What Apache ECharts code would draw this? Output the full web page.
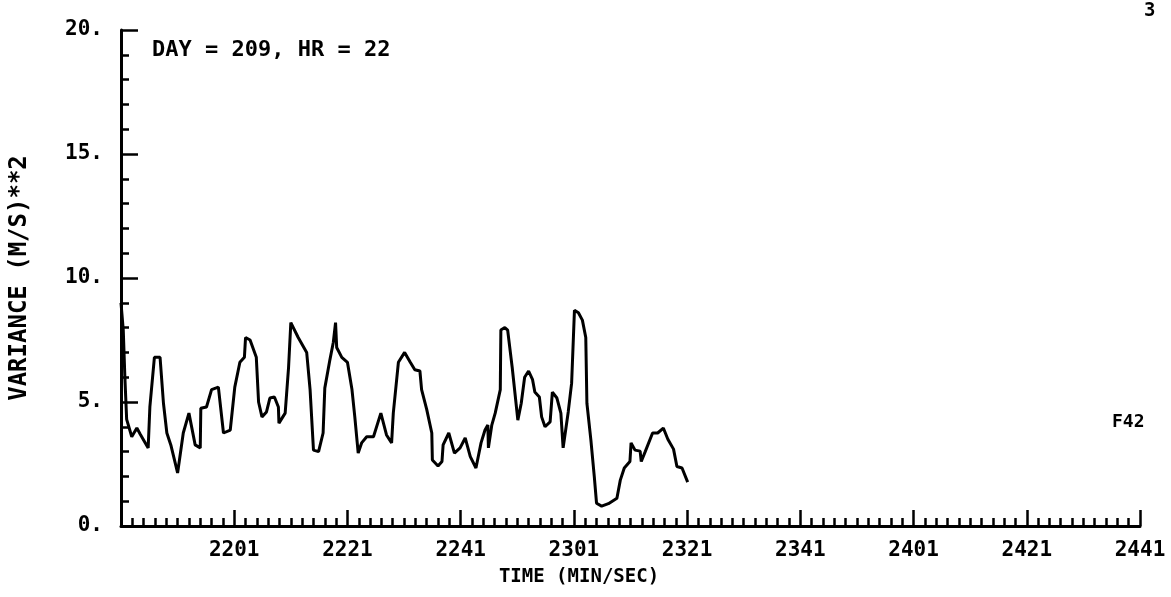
<!DOCTYPE html>
<html>
<head>
<meta charset="utf-8">
<script src="https://cdn.jsdelivr.net/npm/echarts@6/dist/echarts.min.js"></script>
<style>
html,body{margin:0;padding:0;background:#fff;}
#c{width:1171px;height:597px;}
</style>
</head>
<body>
<div id="c"></div>
<script>
// Time axis starts at 21:41 (min/sec); values are seconds after that.
const startMin = 21, startSec = 41;
const xTickLabels = ['2201','2221','2241','2301','2321','2341','2401','2421','2441'];
const yTickLabels = ['0.','5.','10.','15.','20.'];
const timeSec = [0.0,0.4,0.7,1.0,1.9,2.8,3.4,4.8,5.1,5.9,6.9,7.5,8.1,8.8,10.0,11.0,12.0,13.1,14.0,14.1,15.1,16.0,17.2,18.1,19.3,20.1,21.0,21.8,22.0,22.8,23.9,24.3,24.9,25.7,26.3,27.1,27.8,27.9,29.0,29.6,30.0,31.3,32.8,33.4,34.0,34.9,35.7,36.0,36.9,37.5,37.9,38.1,39.0,40.0,40.8,41.3,41.9,42.5,43.4,44.6,45.9,46.9,47.8,48.1,49.0,50.1,51.1,51.9,52.8,53.1,54.0,54.9,55.0,56.0,56.7,56.9,57.9,58.9,59.9,60.8,61.7,62.7,63.6,64.3,64.8,64.9,65.5,66.1,67.0,67.1,67.8,68.3,69.1,70.1,70.7,71.3,72.0,72.7,73.1,73.9,74.3,74.9,75.8,76.2,77.0,77.7,78.1,79.0,79.6,80.1,80.8,81.5,82.1,82.3,83.0,83.6,84.0,84.9,86.1,87.6,88.2,88.9,89.9,90.1,90.8,91.7,91.9,92.6,93.9,94.8,95.8,96.6,97.6,98.2,99.1,100.1];
const variance = [9.0,7.9,5.9,4.3,3.6,3.95,3.7,3.15,4.8,6.8,6.8,4.95,3.75,3.27,2.14,3.75,4.55,3.27,3.15,4.75,4.8,5.5,5.6,3.75,3.87,5.6,6.6,6.8,7.6,7.5,6.8,5.0,4.4,4.6,5.16,5.2,4.8,4.15,4.55,6.4,8.2,7.6,7.0,5.5,3.06,3.0,3.75,5.56,6.7,7.4,8.2,7.2,6.8,6.6,5.5,4.4,2.94,3.35,3.6,3.6,4.55,3.67,3.35,4.55,6.6,7.0,6.6,6.3,6.25,5.5,4.7,3.75,2.66,2.42,2.6,3.27,3.75,2.94,3.15,3.55,2.8,2.34,3.35,3.87,4.07,3.15,4.07,4.55,5.5,7.9,8.0,7.9,6.4,4.27,4.95,6.0,6.25,5.9,5.4,5.2,4.4,4.0,4.2,5.4,5.16,4.55,3.15,4.6,5.76,8.7,8.6,8.3,7.6,4.95,3.47,2.0,0.92,0.8,0.9,1.12,1.85,2.34,2.6,3.35,3.06,3.02,2.6,3.0,3.75,3.75,3.95,3.5,3.1,2.4,2.34,1.77];
const titleText = 'DAY = 209, HR = 22';
const xName = 'TIME (MIN/SEC)';
const yName = 'VARIANCE (M/S)**2';

const FONT = '"DejaVu Sans Mono"';
const points = timeSec.map((t, i) => [t, variance[i]]);
function fmtTime(v) {
  if (v <= 0) return '';
  const total = startMin * 60 + startSec + v;
  const m = Math.floor(total / 60), s = Math.round(total % 60);
  return String(m) + String(s).padStart(2, '0');
}
const chart = echarts.init(document.getElementById('c'), null, {renderer: 'canvas'});
chart.setOption({
  backgroundColor: '#fff',
  animation: false,
  grid: {left: 121, right: 31, top: 30, bottom: 71, containLabel: false},
  xAxis: {
    type: 'value', min: 0, max: 180, interval: 20,
    axisLine: {show: true, lineStyle: {color: '#000', width: 3}},
    axisTick: {show: true, inside: true, length: 16, lineStyle: {color: '#000', width: 2.5}},
    minorTick: {show: true, splitNumber: 10, length: 8, lineStyle: {color: '#000', width: 2.5}},
    axisLabel: {formatter: v => { const l = fmtTime(v); return xTickLabels.includes(l) ? l : ''; }, margin: 14, fontFamily: FONT, fontWeight: 'bold', fontSize: 21, color: '#000'},
    splitLine: {show: false}
  },
  yAxis: {
    type: 'value', min: 0, max: 20, interval: 5,
    name: yName, nameLocation: 'middle', nameGap: 89, nameRotate: 90,
    nameTextStyle: {fontFamily: FONT, fontWeight: 'bold', fontSize: 24, color: '#000'},
    axisLine: {show: true, lineStyle: {color: '#000', width: 3}},
    axisTick: {show: true, inside: true, length: 17, lineStyle: {color: '#000', width: 2.5}},
    minorTick: {show: true, splitNumber: 5, length: 8, lineStyle: {color: '#000', width: 2.5}},
    axisLabel: {formatter: v => yTickLabels[Math.round(v / 5)], margin: 18, fontFamily: FONT, fontWeight: 'bold', fontSize: 21, color: '#000'},
    splitLine: {show: false}
  },
  graphic: [
    {type: 'text', left: 152, top: 39, style: {text: titleText, font: 'bold 22px "DejaVu Sans Mono"', fill: '#000'}},
    {type: 'text', x: 579, y: 577, style: {text: xName, font: 'bold 19px "DejaVu Sans Mono"', fill: '#000', align: 'center', verticalAlign: 'middle'}},
    {type: 'text', left: 1144, top: 2, style: {text: '3', font: 'bold 19px "DejaVu Sans Mono"', fill: '#000'}},
    {type: 'text', left: 1112, top: 413, style: {text: 'F42', font: 'bold 18px "DejaVu Sans Mono"', fill: '#000'}}
  ],
  series: [{
    type: 'line', data: points, showSymbol: false, symbol: 'none',
    lineStyle: {color: '#000', width: 3}, clip: false
  }]
});
</script>
</body>
</html>
